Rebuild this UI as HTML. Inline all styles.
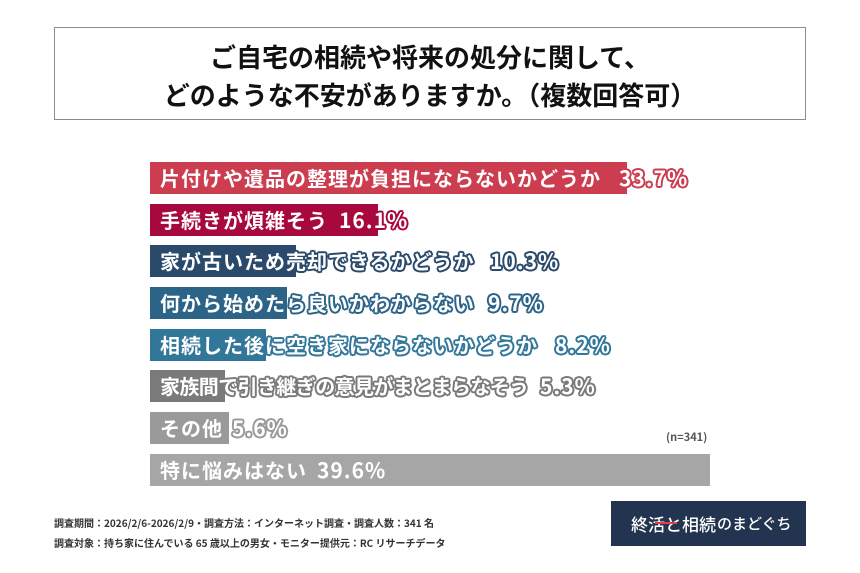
<!DOCTYPE html>
<html lang="ja">
<head>
<meta charset="utf-8">
<style>
  html, body { margin:0; padding:0; background:#fff; }
  body { width:860px; height:573px; position:relative; overflow:hidden;
         font-family:"Liberation Sans","Noto Sans CJK JP",sans-serif; }
  .title { position:absolute; left:54px; top:27px; width:750px; height:91px;
           border:1.5px solid #8c8c8c; box-sizing:content-box; }
  .title div { position:absolute; left:0; right:0; text-align:center;
               font-family:"Noto Sans CJK JP",sans-serif; font-weight:700;
               font-size:26px; color:#111; line-height:30px; }
  .bar { position:absolute; left:150px; height:32px; }
  .lab, .pct { position:absolute; height:32px; line-height:32px; white-space:nowrap;
               font-family:"Noto Sans CJK JP",sans-serif; font-weight:700; color:#fff; font-size:20px; }
  .lab { left:160px; letter-spacing:1px; }
  .pct { font-size:21px; letter-spacing:1px; }
  .foot { position:absolute; left:54px; font-family:"Noto Sans CJK JP",sans-serif;
          font-weight:700; font-size:10px; color:#333; white-space:nowrap; line-height:14px; }
  .logo { position:absolute; left:611px; top:501px; width:195px; height:45px; background:#22344f; }
  .logo span { position:absolute; top:0; line-height:45px; color:#fff; white-space:nowrap;
               font-family:"Noto Sans CJK JP",sans-serif; font-weight:500; }
</style>
</head>
<body>

<div class="title">
  <div style="top:14px;">ご自宅の相続や将来の処分に関して、</div>
  <div style="top:52px;">どのような不安がありますか。（複数回答可）</div>
</div>

<!-- Row 1 -->
<div class="bar" style="top:162px;width:477px;background:#cc3d50;"></div>
<div class="lab" style="top:162px;">片付けや遺品の整理が負担にならないかどうか</div>
<div class="pct" style="top:162px;left:619px;text-shadow:2px 0 #cc3d50,-2px 0 #cc3d50,0 2px #cc3d50,0 -2px #cc3d50,1.5px 1.5px #cc3d50,-1.5px 1.5px #cc3d50,1.5px -1.5px #cc3d50,-1.5px -1.5px #cc3d50;">33.7%</div>

<!-- Row 2 -->
<div class="bar" style="top:204px;width:228px;background:#a8093c;"></div>
<div class="lab" style="top:204px;">手続きが煩雑そう</div>
<div class="pct" style="top:204px;left:339px;text-shadow:2px 0 #a8093c,-2px 0 #a8093c,0 2px #a8093c,0 -2px #a8093c,1.5px 1.5px #a8093c,-1.5px 1.5px #a8093c,1.5px -1.5px #a8093c,-1.5px -1.5px #a8093c;">16.1%</div>

<!-- Row 3 -->
<div class="bar" style="top:245px;width:146px;background:#2b4a6b;"></div>
<div class="lab" style="top:245px;text-shadow:2px 0 #2b4a6b,-2px 0 #2b4a6b,0 2px #2b4a6b,0 -2px #2b4a6b,1.5px 1.5px #2b4a6b,-1.5px 1.5px #2b4a6b,1.5px -1.5px #2b4a6b,-1.5px -1.5px #2b4a6b;">家が古いため売却できるかどうか</div>
<div class="pct" style="top:245px;left:490px;text-shadow:2px 0 #2b4a6b,-2px 0 #2b4a6b,0 2px #2b4a6b,0 -2px #2b4a6b,1.5px 1.5px #2b4a6b,-1.5px 1.5px #2b4a6b,1.5px -1.5px #2b4a6b,-1.5px -1.5px #2b4a6b;">10.3%</div>

<!-- Row 4 -->
<div class="bar" style="top:287px;width:137px;background:#2c6488;"></div>
<div class="lab" style="top:287px;text-shadow:2px 0 #2c6488,-2px 0 #2c6488,0 2px #2c6488,0 -2px #2c6488,1.5px 1.5px #2c6488,-1.5px 1.5px #2c6488,1.5px -1.5px #2c6488,-1.5px -1.5px #2c6488;">何から始めたら良いかわからない</div>
<div class="pct" style="top:287px;left:488px;text-shadow:2px 0 #2c6488,-2px 0 #2c6488,0 2px #2c6488,0 -2px #2c6488,1.5px 1.5px #2c6488,-1.5px 1.5px #2c6488,1.5px -1.5px #2c6488,-1.5px -1.5px #2c6488;">9.7%</div>

<!-- Row 5 -->
<div class="bar" style="top:329px;width:116px;background:#32779a;"></div>
<div class="lab" style="top:329px;text-shadow:2px 0 #32779a,-2px 0 #32779a,0 2px #32779a,0 -2px #32779a,1.5px 1.5px #32779a,-1.5px 1.5px #32779a,1.5px -1.5px #32779a,-1.5px -1.5px #32779a;">相続した後に空き家にならないかどうか</div>
<div class="pct" style="top:329px;left:555px;text-shadow:2px 0 #32779a,-2px 0 #32779a,0 2px #32779a,0 -2px #32779a,1.5px 1.5px #32779a,-1.5px 1.5px #32779a,1.5px -1.5px #32779a,-1.5px -1.5px #32779a;">8.2%</div>

<!-- Row 6 -->
<div class="bar" style="top:370px;width:75px;background:#7a7a7a;"></div>
<div class="lab" style="top:370px;letter-spacing:-0.6px;text-shadow:2px 0 #7a7a7a,-2px 0 #7a7a7a,0 2px #7a7a7a,0 -2px #7a7a7a,1.5px 1.5px #7a7a7a,-1.5px 1.5px #7a7a7a,1.5px -1.5px #7a7a7a,-1.5px -1.5px #7a7a7a;">家族間で引き継ぎの意見がまとまらなそう</div>
<div class="pct" style="top:370px;left:540px;text-shadow:2px 0 #7a7a7a,-2px 0 #7a7a7a,0 2px #7a7a7a,0 -2px #7a7a7a,1.5px 1.5px #7a7a7a,-1.5px 1.5px #7a7a7a,1.5px -1.5px #7a7a7a,-1.5px -1.5px #7a7a7a;">5.3%</div>

<!-- Row 7 -->
<div class="bar" style="top:412px;width:79px;background:#9a9a9a;"></div>
<div class="lab" style="top:412px;">その他</div>
<div class="pct" style="top:412px;left:232px;text-shadow:2px 0 #9a9a9a,-2px 0 #9a9a9a,0 2px #9a9a9a,0 -2px #9a9a9a,1.5px 1.5px #9a9a9a,-1.5px 1.5px #9a9a9a,1.5px -1.5px #9a9a9a,-1.5px -1.5px #9a9a9a;">5.6%</div>

<!-- n -->
<div style="position:absolute;left:666px;top:429px;font-family:'Noto Sans CJK JP',sans-serif;font-weight:700;font-size:11px;color:#555;line-height:16px;">(n=341)</div>

<!-- Row 8 -->
<div class="bar" style="top:454px;width:560px;background:#a6a6a6;"></div>
<div class="lab" style="top:454px;">特に悩みはない</div>
<div class="pct" style="top:454px;left:317px;">39.6%</div>

<!-- Footer -->
<div class="foot" style="top:516px;">調査期間：2026/2/6-2026/2/9・調査方法：インターネット調査・調査人数：341 名</div>
<div class="foot" style="top:536px;">調査対象：持ち家に住んでいる 65 歳以上の男女・モニター提供元：RC リサーチデータ</div>

<div class="logo">
  <span style="left:20px;font-size:17px;">終活と相続</span>
  <span style="left:106px;font-size:15px;">のまどぐち</span>
  <div style="position:absolute;left:44px;top:21px;width:22px;height:2px;background:#e0404a;"></div>
</div>

</body>
</html>
